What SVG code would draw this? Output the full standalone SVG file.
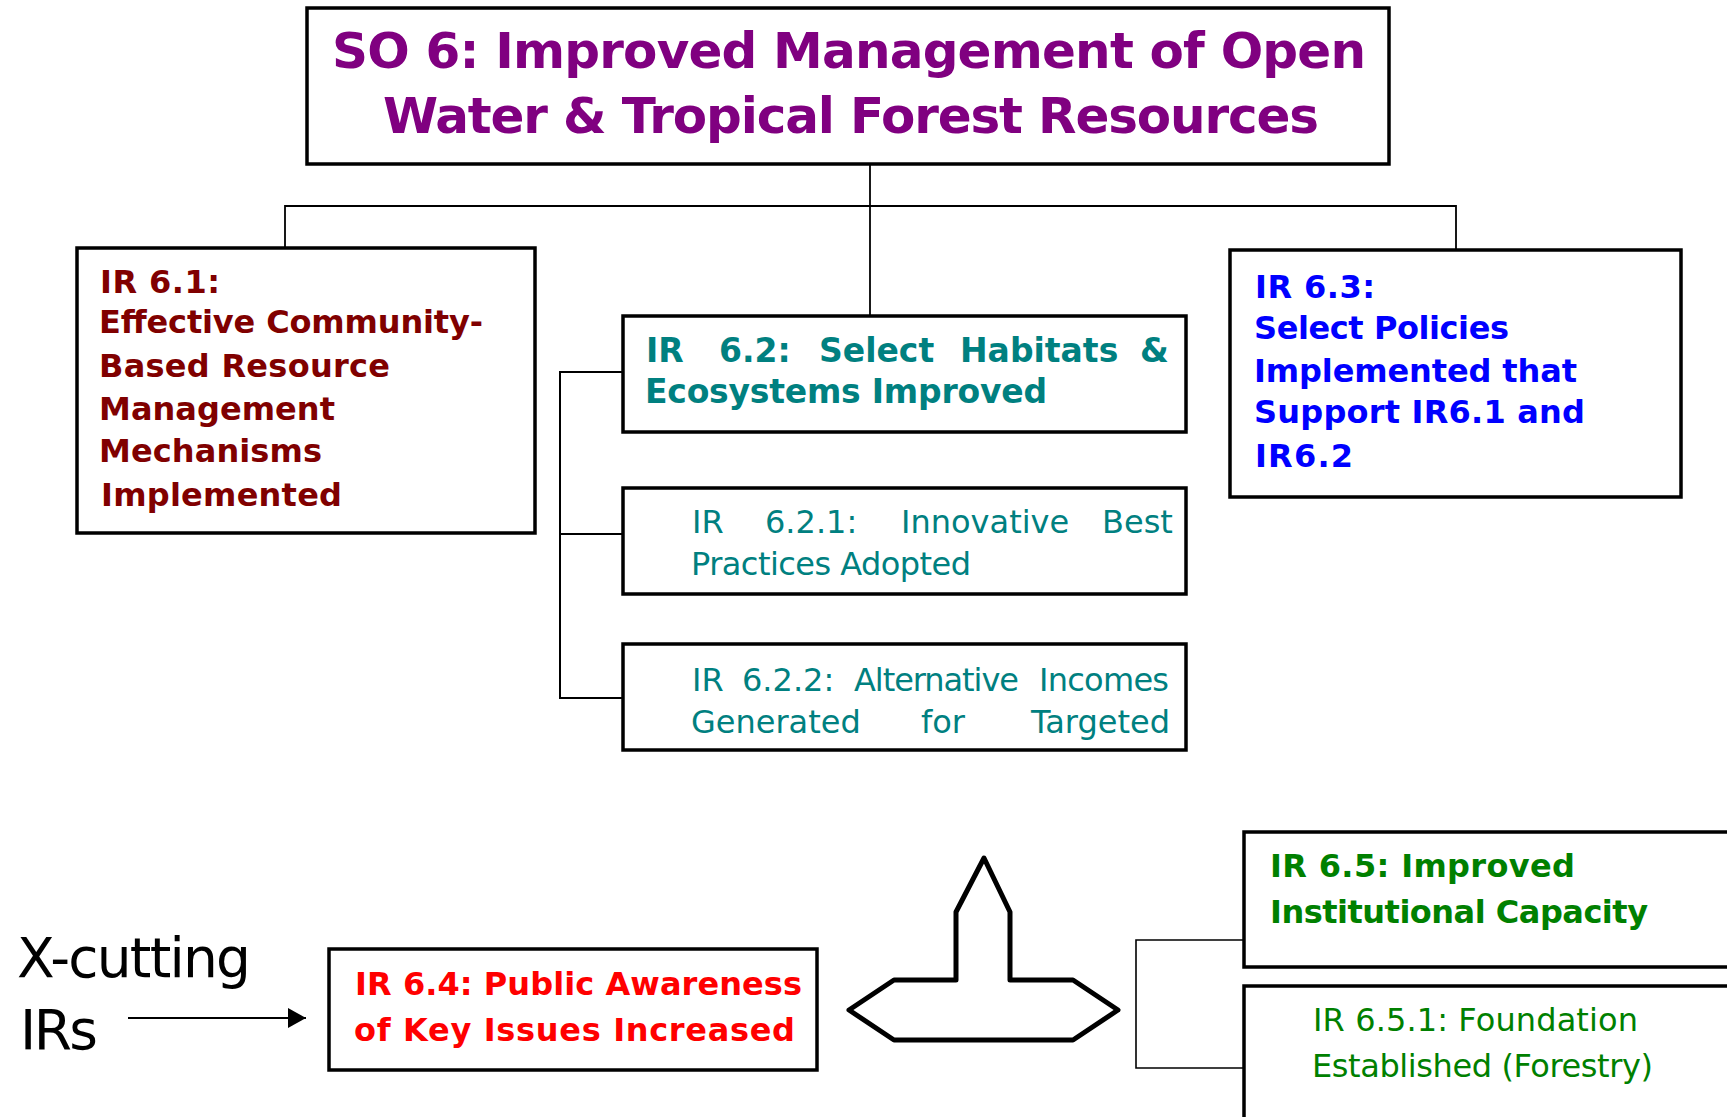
<svg xmlns="http://www.w3.org/2000/svg" width="1727" height="1117" viewBox="0 0 1727 1117">
<style>
.box{fill:#ffffff;stroke:#000000;stroke-width:3.5}
.conn{fill:none;stroke:#000000;stroke-width:1.8}
.b{font-family:"DejaVu Sans","Liberation Sans",sans-serif;font-weight:bold;font-size:32px}
.r{font-family:"DejaVu Sans","Liberation Sans",sans-serif;font-size:32px}
.title{font-family:"DejaVu Sans","Liberation Sans",sans-serif;font-weight:bold;font-size:50px;fill:#800080}
.so61{fill:#800000}
.so62{fill:#008080}
.so63{fill:#0000FF}
.so64{fill:#FF0000}
.so65{fill:#008000}
</style>
<defs>
<marker id="arrow" markerUnits="userSpaceOnUse" markerWidth="18" markerHeight="20" viewBox="0 0 18 20" refX="18" refY="10" orient="auto">
<path d="M0,0 L18,10 L0,20 z" fill="#000000"/>
</marker>
</defs>
<rect width="1727" height="1117" fill="#ffffff"/>

<g id="connectors">
<path class="conn" d="M870,164 V316"/>
<path class="conn" d="M285,248 V206 H1456 V250"/>
<path class="conn" d="M623,372 H560 V698 H623 M560,534 H623" style="stroke-width:2"/>
<path class="conn" d="M1244,940 H1136 V1068 H1244" style="stroke-width:1.6"/>
<line x1="128" y1="1018" x2="306" y2="1018" stroke="#000000" stroke-width="2" marker-end="url(#arrow)"/>
</g>

<g id="so6">
<rect class="box" x="307" y="8" width="1082" height="156"/>
<text class="title" x="332" y="68" textLength="1034" lengthAdjust="spacing">SO 6: Improved Management of Open</text>
<text class="title" x="383" y="133" textLength="936" lengthAdjust="spacing">Water &amp; Tropical Forest Resources</text>
</g>

<g id="ir61">
<rect class="box" x="77" y="248" width="458" height="285"/>
<text class="b so61" x="100" y="293" textLength="120">IR 6.1:</text>
<text class="b so61" x="99" y="333" textLength="384">Effective Community-</text>
<text class="b so61" x="99" y="377" textLength="291">Based Resource</text>
<text class="b so61" x="99" y="420" textLength="236">Management</text>
<text class="b so61" x="99" y="462" textLength="223">Mechanisms</text>
<text class="b so61" x="101" y="506" textLength="241">Implemented</text>
</g>

<g id="ir62">
<rect class="box" x="623" y="316" width="563" height="116"/>
<text class="b so62" y="362" style="font-size:33px"><tspan x="646">IR</tspan><tspan x="719">6.2:</tspan><tspan x="819">Select</tspan><tspan x="960">Habitats</tspan><tspan x="1140">&amp;</tspan></text>
<text class="b so62" x="645" y="403" textLength="402" style="font-size:33px">Ecosystems Improved</text>
</g>

<g id="ir621">
<rect class="box" x="623" y="488" width="563" height="106"/>
<text class="r so62" y="533"><tspan x="692">IR</tspan><tspan x="765">6.2.1:</tspan><tspan x="901">Innovative</tspan><tspan x="1102">Best</tspan></text>
<text class="r so62" x="691" y="575" textLength="280">Practices Adopted</text>
</g>

<g id="ir622">
<rect class="box" x="623" y="644" width="563" height="106"/>
<text class="r so62" y="691"><tspan x="692">IR</tspan><tspan x="742">6.2.2:</tspan></text>
<text class="r so62" x="854" y="691" textLength="165">Alternative</text>
<text class="r so62" x="1039" y="691" textLength="130">Incomes</text>
<text class="r so62" y="733"><tspan x="691">Generated</tspan><tspan x="921">for</tspan></text>
<text class="r so62" x="1031" y="733" textLength="139">Targeted</text>
</g>

<g id="ir63">
<rect class="box" x="1230" y="250" width="451" height="247"/>
<text class="b so63" x="1255" y="298" textLength="120">IR 6.3:</text>
<text class="b so63" x="1254" y="339" textLength="255">Select Policies</text>
<text class="b so63" x="1254" y="382" textLength="323">Implemented that</text>
<text class="b so63" x="1254" y="423" textLength="331">Support IR6.1 and</text>
<text class="b so63" x="1255" y="467" textLength="98">IR6.2</text>
</g>

<g id="xcutting">
<text x="17" y="977" textLength="234" style="font-family:'DejaVu Sans','Liberation Sans',sans-serif;font-size:55px;fill:#000000">X-cutting</text>
<text x="20" y="1049" textLength="78" style="font-family:'DejaVu Sans','Liberation Sans',sans-serif;font-size:55px;fill:#000000">IRs</text>
</g>

<g id="ir64">
<rect class="box" x="329" y="949" width="488" height="121"/>
<text class="b so64" x="355" y="995" textLength="447">IR 6.4: Public Awareness</text>
<text class="b so64" x="354" y="1041" textLength="441">of Key Issues Increased</text>
</g>

<g id="spike-shape">
<path d="M984,858 L1010,912 L1010,980 L1073,980 L1118,1010 L1073,1040 L894,1040 L849,1010 L894,980 L956,980 L956,912 Z" fill="#ffffff" stroke="#000000" stroke-width="5" stroke-linejoin="round"/>
</g>

<g id="ir65">
<rect class="box" x="1244" y="832" width="520" height="135"/>
<text class="b so65" x="1270" y="877" textLength="305">IR 6.5: Improved</text>
<text class="b so65" x="1270" y="923" textLength="378">Institutional Capacity</text>
</g>

<g id="ir651">
<rect class="box" x="1244" y="986" width="520" height="160"/>
<text class="r so65" x="1313" y="1031" textLength="325">IR 6.5.1: Foundation</text>
<text class="r so65" x="1312" y="1077" textLength="341">Established (Forestry)</text>
</g>
</svg>
